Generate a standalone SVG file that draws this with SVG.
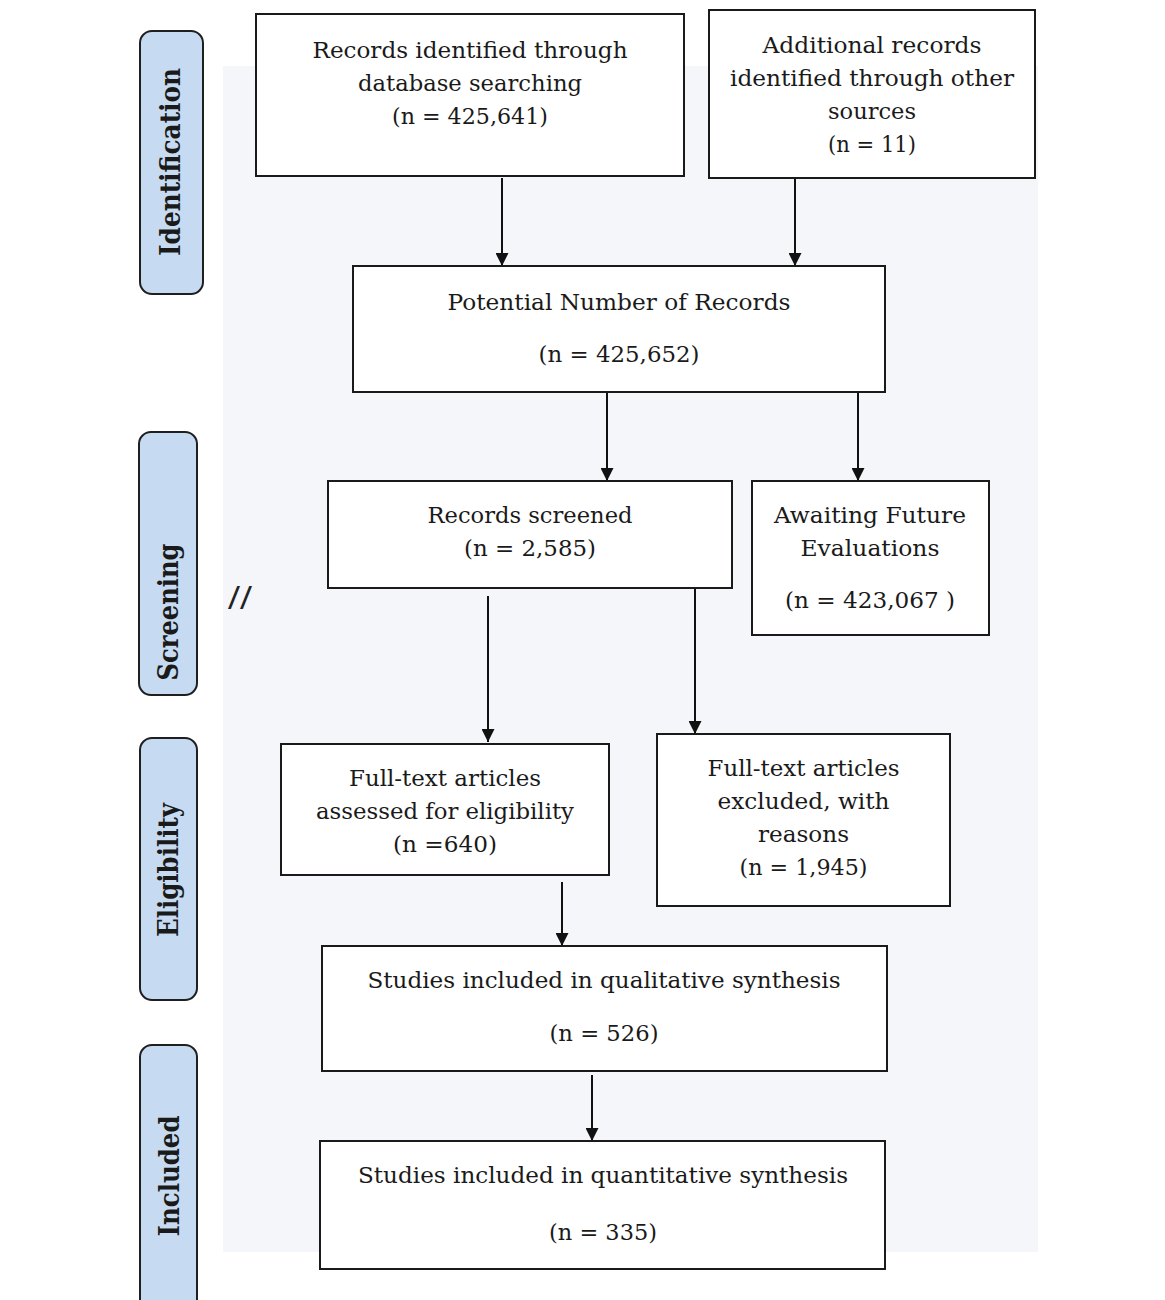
<svg xmlns="http://www.w3.org/2000/svg" width="1165" height="1300" viewBox="0 0 1165 1300">
  <style>
    .box { fill: #ffffff; stroke: #1a1a1a; stroke-width: 2; }
    .phase { fill: #c6dbf1; stroke: #1f1f1f; stroke-width: 2; }
    .t { font-family: "DejaVu Serif", "Liberation Serif", serif; font-size: 23px; fill: #1a1a1a; text-anchor: middle; }
    .pt { font-family: "DejaVu Serif", "Liberation Serif", serif; font-size: 27px; font-weight: bold; fill: #1a1a1a; text-anchor: middle; }
    .conn { stroke: #111111; stroke-width: 2; fill: none; marker-end: url(#arrow); }
  </style>
  <defs>
    <marker id="arrow" viewBox="0 0 13 13" refX="13" refY="6.5" markerWidth="13" markerHeight="13" markerUnits="userSpaceOnUse" orient="auto">
      <path d="M0,0 L13,6.5 L0,13 z" fill="#111111"/>
    </marker>
  </defs>

  <rect x="0" y="0" width="1165" height="1300" fill="#ffffff"/>
  <rect x="223" y="66" width="815" height="1186" fill="#f5f6fa"/>

  <g id="phase-identification">
    <rect class="phase" x="140" y="31" width="63" height="263" rx="12"/>
    <text class="pt" transform="translate(180,162) rotate(-90)" textLength="188" lengthAdjust="spacingAndGlyphs">Identification</text>
  </g>
  <g id="phase-screening">
    <rect class="phase" x="139" y="432" width="58" height="263" rx="12"/>
    <text class="pt" transform="translate(178,612) rotate(-90)" textLength="137" lengthAdjust="spacingAndGlyphs">Screening</text>
  </g>
  <g id="phase-eligibility">
    <rect class="phase" x="140" y="738" width="57" height="262" rx="12"/>
    <text class="pt" transform="translate(178,870) rotate(-90)" textLength="134" lengthAdjust="spacingAndGlyphs">Eligibility</text>
  </g>
  <g id="phase-included">
    <rect class="phase" x="140" y="1045" width="57" height="275" rx="12"/>
    <text class="pt" transform="translate(179,1176) rotate(-90)" textLength="121" lengthAdjust="spacingAndGlyphs">Included</text>
  </g>

  <text x="228" y="607" font-family="DejaVu Serif, serif" font-size="27" fill="#222" textLength="24" lengthAdjust="spacingAndGlyphs">//</text>

  <g id="connectors">
    <line class="conn" x1="502" y1="178" x2="502" y2="266"/>
    <line class="conn" x1="795" y1="178" x2="795" y2="266"/>
    <line class="conn" x1="607" y1="392" x2="607" y2="481"/>
    <line class="conn" x1="858" y1="392" x2="858" y2="481"/>
    <line class="conn" x1="488" y1="596" x2="488" y2="742"/>
    <line class="conn" x1="695" y1="588" x2="695" y2="734"/>
    <line class="conn" x1="562" y1="882" x2="562" y2="946"/>
    <line class="conn" x1="592" y1="1075" x2="592" y2="1141"/>
  </g>

  <g id="records-database">
    <rect class="box" x="256" y="14" width="428" height="162"/>
    <text class="t" x="470" y="58" textLength="315" lengthAdjust="spacingAndGlyphs">Records identified through</text>
    <text class="t" x="470" y="91" textLength="224" lengthAdjust="spacingAndGlyphs">database searching</text>
    <text class="t" x="470" y="124" textLength="156" lengthAdjust="spacingAndGlyphs">(n = 425,641)</text>
  </g>

  <g id="records-other">
    <rect class="box" x="709" y="10" width="326" height="168"/>
    <text class="t" x="872" y="53" textLength="219" lengthAdjust="spacingAndGlyphs">Additional records</text>
    <text class="t" x="872" y="86" textLength="284" lengthAdjust="spacingAndGlyphs">identified through other</text>
    <text class="t" x="872" y="119" textLength="88" lengthAdjust="spacingAndGlyphs">sources</text>
    <text class="t" x="872" y="152" textLength="88" lengthAdjust="spacingAndGlyphs">(n = 11)</text>
  </g>

  <g id="potential-records">
    <rect class="box" x="353" y="266" width="532" height="126"/>
    <text class="t" x="619" y="310" textLength="343" lengthAdjust="spacingAndGlyphs">Potential Number of Records</text>
    <text class="t" x="619" y="362" textLength="161" lengthAdjust="spacingAndGlyphs">(n = 425,652)</text>
  </g>

  <g id="records-screened">
    <rect class="box" x="328" y="481" width="404" height="107"/>
    <text class="t" x="530" y="523" textLength="205" lengthAdjust="spacingAndGlyphs">Records screened</text>
    <text class="t" x="530" y="556" textLength="132" lengthAdjust="spacingAndGlyphs">(n = 2,585)</text>
  </g>

  <g id="awaiting-future">
    <rect class="box" x="752" y="481" width="237" height="154"/>
    <text class="t" x="870" y="523" textLength="192" lengthAdjust="spacingAndGlyphs">Awaiting Future</text>
    <text class="t" x="870" y="556" textLength="139" lengthAdjust="spacingAndGlyphs">Evaluations</text>
    <text class="t" x="870" y="608" textLength="170" lengthAdjust="spacingAndGlyphs">(n = 423,067 )</text>
  </g>

  <g id="fulltext-assessed">
    <rect class="box" x="281" y="744" width="328" height="131"/>
    <text class="t" x="445" y="786" textLength="192" lengthAdjust="spacingAndGlyphs">Full-text articles</text>
    <text class="t" x="445" y="819" textLength="258" lengthAdjust="spacingAndGlyphs">assessed for eligibility</text>
    <text class="t" x="445" y="852" textLength="104" lengthAdjust="spacingAndGlyphs">(n =640)</text>
  </g>

  <g id="fulltext-excluded">
    <rect class="box" x="657" y="734" width="293" height="172"/>
    <text class="t" x="803.5" y="776" textLength="192" lengthAdjust="spacingAndGlyphs">Full-text articles</text>
    <text class="t" x="803.5" y="809" textLength="172" lengthAdjust="spacingAndGlyphs">excluded, with</text>
    <text class="t" x="803.5" y="842" textLength="91" lengthAdjust="spacingAndGlyphs">reasons</text>
    <text class="t" x="803.5" y="875" textLength="128" lengthAdjust="spacingAndGlyphs">(n = 1,945)</text>
  </g>

  <g id="qualitative-synthesis">
    <rect class="box" x="322" y="946" width="565" height="125"/>
    <text class="t" x="604" y="988" textLength="473" lengthAdjust="spacingAndGlyphs">Studies included in qualitative synthesis</text>
    <text class="t" x="604" y="1041" textLength="109" lengthAdjust="spacingAndGlyphs">(n = 526)</text>
  </g>

  <g id="quantitative-synthesis">
    <rect class="box" x="320" y="1141" width="565" height="128"/>
    <text class="t" x="603" y="1183" textLength="490" lengthAdjust="spacingAndGlyphs">Studies included in quantitative synthesis</text>
    <text class="t" x="603" y="1240" textLength="108" lengthAdjust="spacingAndGlyphs">(n = 335)</text>
  </g>
</svg>
